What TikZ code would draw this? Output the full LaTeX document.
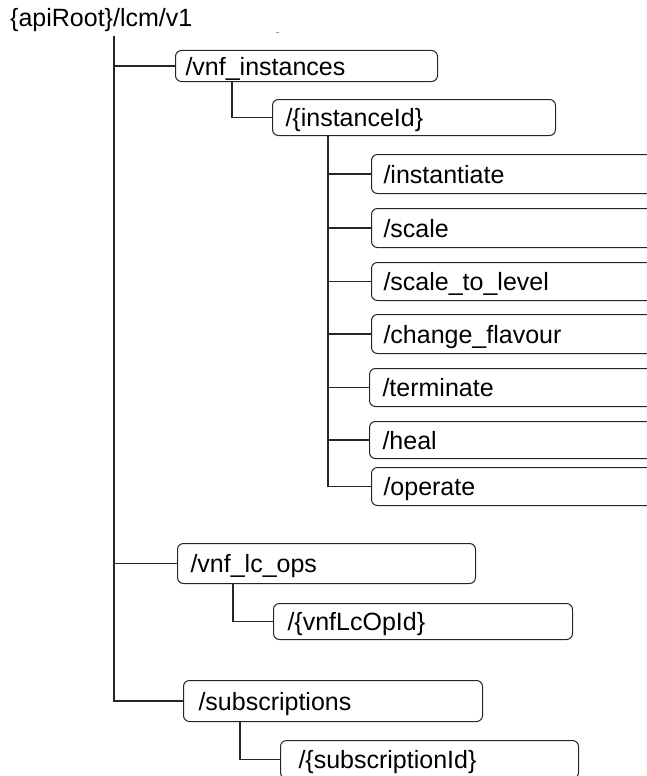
\documentclass[tikz,border=0pt]{standalone}
\usepackage{fontspec}
\setmainfont{Liberation Sans}
\begin{document}
\begin{tikzpicture}[x=1pt,y=-1pt,
  tbox/.style={draw=black!85, line width=1pt, rounded corners=6pt, inner ysep=0pt,
    text height=18pt, text depth=0pt, align=left, anchor=north west,
    font=\fontsize{25}{30}\selectfont},
  link/.style={draw=black!85, line width=1.1pt}]
\useasboundingbox (0,0) rectangle (647,776);
\clip (0,0) rectangle (647,776);

\node[anchor=base west, inner sep=0pt, font=\fontsize{25}{30}\selectfont] (root) at (10,27) {\{apiRoot\}/lcm/v1};
\fill[black!40] (276,32.5) rectangle (279,33.5);

\node[tbox, inner xsep=10pt, text width=242pt, minimum height=31pt] (vnfi) at (175,50) {/vnf\_instances};
\node[tbox, inner xsep=13pt, text width=257pt, minimum height=36pt] (inst) at (272,99) {/\{instanceId\}};

\node[tbox, inner xsep=12pt, text width=276pt, minimum height=39pt] (op1) at (371,154) {/instantiate};
\node[tbox, inner xsep=12pt, text width=276pt, minimum height=39pt] (op2) at (371,208) {/scale};
\node[tbox, inner xsep=12pt, text width=276pt, minimum height=38pt] (op3) at (371,262) {/scale\_to\_level};
\node[tbox, inner xsep=12pt, text width=276pt, minimum height=39pt] (op4) at (371,314) {/change\_flavour};
\node[tbox, inner xsep=13pt, text width=274pt, minimum height=38pt] (op5) at (369,368) {/terminate};
\node[tbox, inner xsep=13pt, text width=274pt, minimum height=37pt] (op6) at (369,421) {/heal};
\node[tbox, inner xsep=12pt, text width=276pt, minimum height=38pt] (op7) at (371,467) {/operate};

\node[tbox, inner xsep=13pt, text width=272pt, minimum height=40pt] (lcops) at (177,543) {/vnf\_lc\_ops};
\node[tbox, inner xsep=14pt, text width=271pt, minimum height=36pt] (lcop) at (273,603) {/\{vnfLcOpId\}};

\node[tbox, inner xsep=15pt, text width=269pt, minimum height=41pt] (subs) at (183,680) {/subscriptions};
\node[tbox, inner xsep=18pt, text width=262pt, minimum height=38pt] (sub) at (280,740) {/\{subscriptionId\}};

\coordinate (t0) at (114,36);
\draw[link] (t0) |- (vnfi.west);
\draw[link] (t0) |- (lcops.west);
\draw[link] (t0) |- (subs.west);

\draw[link] ([xshift=57pt]vnfi.south west) |- (inst.west);
\foreach \n in {op1,op2,op3,op4,op5,op6,op7}
  \draw[link] ([xshift=56pt]inst.south west) |- (\n.west);
\draw[link] ([xshift=56pt]lcops.south west) |- (lcop.west);
\draw[link] ([xshift=57pt]subs.south west) |- (sub.west);
\end{tikzpicture}
\end{document}
